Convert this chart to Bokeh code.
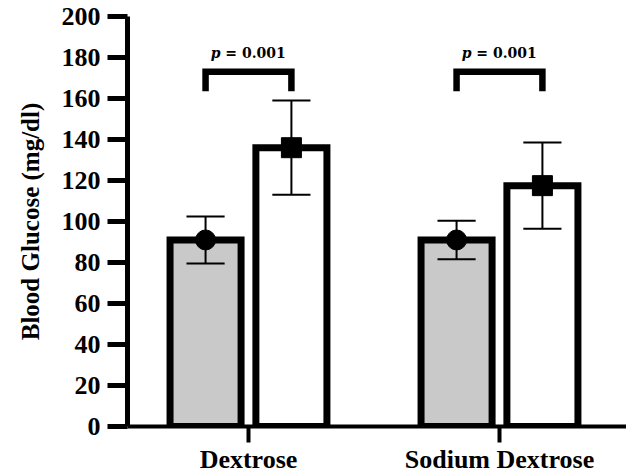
import numpy as np
from bokeh.plotting import figure
from bokeh.models import ColumnDataSource, FixedTicker, Range1d
from bokeh.core.properties import value
from bokeh.embed import file_html
from bokeh.resources import INLINE

# ---- data ----
categories = ["Dextrose", "Sodium Dextrose"]
before_mean = [91, 91]        # grey bars, circle markers
before_sd = [11.5, 9.4]
after_mean = [136, 117.5]     # white bars, square markers
after_sd = [23, 21]
p_values = ["0.001", "0.001"]
bracket_low = [163.5, 163.5]
bracket_high = [173, 173]
label_y = [182, 182]
y_ticks = [0, 20, 40, 60, 80, 100, 120, 140, 160, 180, 200]

# ---- layout helpers ----
x = np.arange(len(categories)) + 1.0
off = 0.171
bw = 0.283
cap = 0.076
xa = x - off
xb = x + off

p = figure(width=626, height=476,
           x_range=Range1d(0.518, 2.506), y_range=Range1d(0, 200),
           output_backend="svg", toolbar_location=None,
           min_border_left=127, min_border_right=0,
           min_border_top=16, min_border_bottom=0)
p.outline_line_color = None
p.xgrid.visible = False
p.ygrid.visible = False
p.background_fill_color = "white"
p.border_fill_color = "white"

src_a = ColumnDataSource(dict(x=xa, top=before_mean,
                              lo=np.array(before_mean) - np.array(before_sd),
                              hi=np.array(before_mean) + np.array(before_sd)))
src_b = ColumnDataSource(dict(x=xb, top=after_mean,
                              lo=np.array(after_mean) - np.array(after_sd),
                              hi=np.array(after_mean) + np.array(after_sd)))

for src, fill in ((src_a, "#c9c9c9"), (src_b, "white")):
    p.vbar(x="x", top="top", bottom=0, width=bw, source=src,
           fill_color=fill, line_color="black", line_width=7, line_join="miter")

for src in (src_a, src_b):
    d = src.data
    p.segment(x0=d["x"], x1=d["x"], y0=d["lo"], y1=d["hi"], line_color="black", line_width=2)
    p.segment(x0=d["x"] - cap, x1=d["x"] + cap, y0=d["lo"], y1=d["lo"], line_color="black", line_width=2)
    p.segment(x0=d["x"] - cap, x1=d["x"] + cap, y0=d["hi"], y1=d["hi"], line_color="black", line_width=2)

p.scatter(x="x", y="top", source=src_a, marker="circle", size=20, color="black")
p.scatter(x="x", y="top", source=src_b, marker="square", size=20, color="black")

# significance brackets
xs = [[xa[i], xa[i], xb[i], xb[i]] for i in range(len(categories))]
ys = [[bracket_low[i], bracket_high[i], bracket_high[i], bracket_low[i]] for i in range(len(categories))]
p.multi_line(xs=xs, ys=ys, line_color="black", line_width=6.5, line_join="miter", line_cap="butt")

mid = (xa + xb) / 2
p.text(x=mid, y=label_y, text=["p"] * len(categories), text_align="right", text_baseline="middle",
       x_offset=-28, text_font=value("DejaVu Serif"), text_font_size="14px",
       text_font_style="bold italic", text_color="black")
p.text(x=mid, y=label_y, text=["\u00a0=\u00a0" + v for v in p_values], text_align="left",
       text_baseline="middle", x_offset=-28, text_font=value("DejaVu Serif"), text_font_size="14px",
       text_font_style="bold", text_color="black")

# axes
ya = p.yaxis[0]
ya.ticker = FixedTicker(ticks=y_ticks)
ya.minor_tick_line_color = None
ya.major_tick_in = 0
ya.major_tick_out = 20
ya.major_tick_line_width = 5
ya.axis_line_width = 5
ya.major_label_standoff = 7
ya.major_label_text_font = "Liberation Serif"
ya.major_label_text_font_size = "26px"
ya.major_label_text_font_style = "bold"
ya.major_label_text_color = "black"
ya.axis_label = "Blood Glucose (mg/dl)"
ya.axis_label_text_font = "Liberation Serif"
ya.axis_label_text_font_size = "25px"
ya.axis_label_text_font_style = "bold"
ya.axis_label_text_color = "black"
ya.axis_label_standoff = 15

xax = p.xaxis[0]
xax.ticker = FixedTicker(ticks=list(x))
xax.major_label_overrides = {float(v): c for v, c in zip(x, categories)}
xax.minor_tick_line_color = None
xax.major_tick_in = 0
xax.major_tick_out = 16
xax.major_tick_line_width = 4
xax.axis_line_width = 4
xax.major_label_standoff = 2
xax.major_label_text_font = "Liberation Serif"
xax.major_label_text_font_size = "26px"
xax.major_label_text_font_style = "bold"
xax.major_label_text_color = "black"

open("out.html", "w").write(file_html(p, INLINE))
